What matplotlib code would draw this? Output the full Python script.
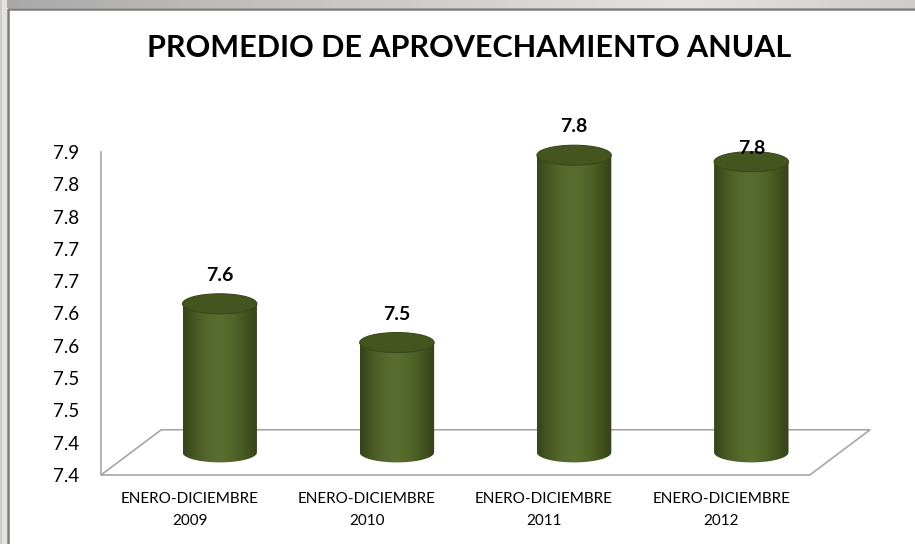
import numpy as np
import matplotlib
matplotlib.use('Agg')
import matplotlib.pyplot as plt
from matplotlib.patches import Polygon, Ellipse, PathPatch, Rectangle
from matplotlib.path import Path
from matplotlib.colors import LinearSegmentedColormap

# Data
categories = ['ENERO-DICIEMBRE\n2009', 'ENERO-DICIEMBRE\n2010',
              'ENERO-DICIEMBRE\n2011', 'ENERO-DICIEMBRE\n2012']
values = [7.58, 7.52, 7.81, 7.80]
value_labels = ['7.6', '7.5', '7.8', '7.8']
yticks = [7.35, 7.40, 7.45, 7.50, 7.55, 7.60, 7.65, 7.70, 7.75, 7.80, 7.85]
ytick_labels = ['7.4', '7.4', '7.5', '7.5', '7.6', '7.6', '7.7', '7.7', '7.8', '7.8', '7.9']
title = 'PROMEDIO DE APROVECHAMIENTO ANUAL'

plt.rcParams['font.family'] = ['Lato', 'DejaVu Sans']

W, H = 915, 544
fig = plt.figure(figsize=(W / 100, H / 100), dpi=100)
fig.patch.set_facecolor('white')

# gray frame around the chart area (window look)
bg = fig.add_axes([0, 0, 1, 1], zorder=-10)
bg.set_xlim(0, W)
bg.set_ylim(H, 0)
bg.axis('off')
top_grad = np.linspace(0, 1, 256)[None, :]
top_cmap = LinearSegmentedColormap.from_list('top', ['#a8a8a8', '#c0bebc', '#d4d0cc', '#e6e2de', '#d0ccc8'])
bg.imshow(top_grad, cmap=top_cmap, extent=[0, W, 8, 0], aspect='auto')
bg.add_patch(Rectangle((0, 0), 7, H, facecolor='#e4e2e0', edgecolor='none'))
bg.add_patch(Rectangle((0, 0), 2, H, facecolor='#cfcdcb', edgecolor='none'))
bg.plot([7.5, 7.5, W], [H, 8.5, 8.5], color='#7c7c7c', lw=1.8, solid_capstyle='butt')

# plot area
ax = fig.add_axes([101 / W, 69 / H, 769 / W, 323 / H])
ax.set_facecolor('none')

dx, dy = 0.34, 0.07          # depth offset of the 3D floor
ymin, ymax = yticks[0], yticks[-1]
x0, x1 = -0.5, len(categories) - 0.5

floor = Polygon([(x0, ymin), (x1, ymin), (x1 + dx, ymin + dy), (x0 + dx, ymin + dy)],
                closed=True, facecolor='none', edgecolor='#a6a6a6', lw=1.2,
                zorder=1, clip_on=False)
ax.add_patch(floor)

body_cmap = LinearSegmentedColormap.from_list(
    'cyl', ['#36441a', '#485a24', '#56692d', '#5a6e30', '#536629', '#44561f', '#34421a'])
bw = 0.42                    # cylinder width in category units
eh = 0.031                   # ellipse height in value units
t = np.linspace(np.pi, 2 * np.pi, 60)

for i, (v, lab) in enumerate(zip(values, value_labels)):
    cx = i + dx / 2
    yb = ymin + dy / 2
    yt = v + dy / 2
    # body: rectangle with rounded (elliptical) bottom
    arc_x = cx + bw / 2 * np.cos(t)
    arc_y = yb + eh / 2 * np.sin(t)
    verts = [(cx - bw / 2, yt)] + list(zip(arc_x, arc_y)) + [(cx + bw / 2, yt), (cx - bw / 2, yt)]
    body = PathPatch(Path(verts), facecolor='none', edgecolor='none', zorder=3, clip_on=False)
    ax.add_patch(body)
    im = ax.imshow(np.linspace(0, 1, 256)[None, :], cmap=body_cmap, aspect='auto',
                   extent=[cx - bw / 2, cx + bw / 2, yb - eh, yt + eh], zorder=3,
                   interpolation='bilinear')
    im.set_clip_path(body)
    im.set_clip_on(True)
    top = Ellipse((cx, yt), bw, eh, facecolor='#45551f', edgecolor='#3a481b', lw=0.8,
                  zorder=4, clip_on=False)
    ax.add_patch(top)
    off = -4 if i == len(values) - 1 else 7
    ax.annotate(lab, (cx, yt + eh / 2), xytext=(0, off), textcoords='offset points',
                ha='center', va='bottom', fontsize=14, fontweight='bold',
                color='black', zorder=5, annotation_clip=False)

ax.set_xlim(x0, x1 + dx)
ax.set_ylim(ymin, ymax)
ax.set_yticks(yticks)
ax.set_yticklabels(ytick_labels)
ax.set_xticks(range(len(categories)))
ax.set_xticklabels(categories, linespacing=1.75)
ax.tick_params(axis='y', length=0, pad=16, labelsize=13.5)
ax.tick_params(axis='x', length=0, pad=12, labelsize=11)
for side in ['top', 'right', 'bottom']:
    ax.spines[side].set_visible(False)
ax.spines['left'].set_color('#a6a6a6')
ax.spines['left'].set_linewidth(1.2)

fig.text(469 / W, 1 - 48 / H, title, ha='center', va='center',
         fontsize=22, fontweight='bold', color='black')

fig.savefig('out.png', dpi=100)
